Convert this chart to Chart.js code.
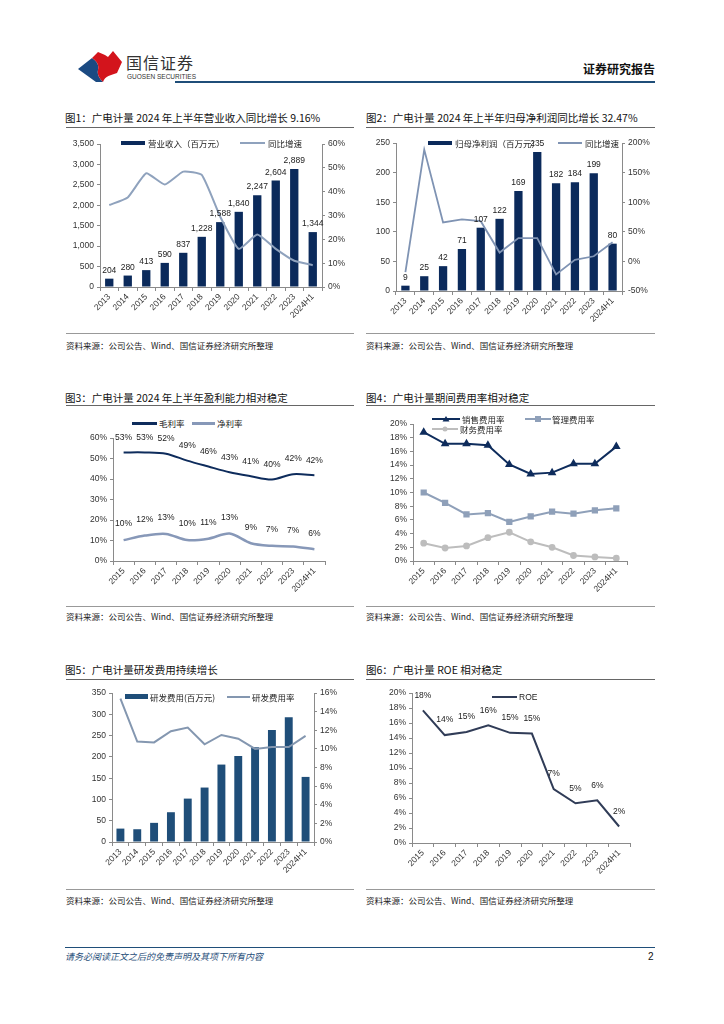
<!DOCTYPE html>
<html><head><meta charset="utf-8">
<script src="https://cdn.jsdelivr.net/npm/chart.js@4/dist/chart.umd.min.js"></script>
<style>
body{margin:0;background:#fff;width:724px;height:1024px;position:relative;overflow:hidden;font-family:"Noto Sans CJK SC","Noto Sans",sans-serif;color:#222;}
.t{position:absolute;white-space:nowrap;}
.title{position:absolute;font-size:10.5px;color:#111;white-space:nowrap;line-height:14px;}
.uline{position:absolute;height:0;border-top:1.5px solid #666;}
.sline{position:absolute;height:0;border-top:1px solid #999;}
.src{position:absolute;font-size:8.5px;color:#222;white-space:nowrap;line-height:11px;}
.box{position:absolute;}
.leg{position:absolute;font-size:8.5px;color:#222;white-space:nowrap;line-height:10px;}
.sw{position:absolute;}
</style></head>
<body>
<!-- header -->
<svg class="t" style="left:60px;top:40px" width="140" height="50" viewBox="60 40 140 50">
  <path d="M78,69 L92,58 C98,62 99,66 98,70 C97,74 99,78 103,82 L96,82 Z" fill="#1b4a82"/>
  <path d="M92,58 L98,52 L105,55 L108,57 L113,51 L122,62 L117,73 C111,75 105,76 103,82 C99,78 97,74 98,70 C99,66 98,62 92,58 Z" fill="#d3141c"/>
</svg>
<div class="t" style="left:126px;top:52px;font-size:16px;letter-spacing:1px;color:#333;line-height:20px;">国信证券</div>
<div class="t" style="left:127px;top:73px;font-size:6.5px;color:#333;line-height:8px;font-family:'Liberation Sans',sans-serif;">GUOSEN SECURITIES</div>
<div class="t" style="left:175px;top:81px;width:480px;border-top:2px solid #1f4e79;"></div>
<div class="t" style="left:583px;top:61px;font-size:12px;font-weight:bold;color:#111;line-height:16px;">证券研究报告</div>

<!-- titles -->
<div class="title" style="left:65px;top:111px;">图1：广电计量 2024 年上半年营业收入同比增长 9.16%</div>
<div class="uline" style="left:66px;top:127px;width:288px;"></div>
<div class="title" style="left:366px;top:111px;">图2：广电计量 2024 年上半年归母净利润同比增长 32.47%</div>
<div class="uline" style="left:366px;top:127px;width:289px;"></div>
<div class="title" style="left:65px;top:391px;">图3：广电计量 2024 年上半年盈利能力相对稳定</div>
<div class="uline" style="left:66px;top:405px;width:288px;"></div>
<div class="title" style="left:366px;top:391px;">图4：广电计量期间费用率相对稳定</div>
<div class="uline" style="left:366px;top:405px;width:289px;"></div>
<div class="title" style="left:65px;top:663px;">图5：广电计量研发费用持续增长</div>
<div class="uline" style="left:66px;top:679px;width:288px;"></div>
<div class="title" style="left:366px;top:663px;">图6：广电计量 ROE 相对稳定</div>
<div class="uline" style="left:366px;top:679px;width:289px;"></div>

<!-- chart boxes -->
<div class="box" style="left:65px;top:135px;width:290px;height:190px;"><canvas id="c1"></canvas></div>
<div class="box" style="left:365px;top:135px;width:290px;height:190px;"><canvas id="c2"></canvas></div>
<div class="box" style="left:65px;top:430px;width:290px;height:170px;"><canvas id="c3"></canvas></div>
<div class="box" style="left:365px;top:415px;width:290px;height:185px;"><canvas id="c4"></canvas></div>
<div class="box" style="left:65px;top:685px;width:290px;height:190px;"><canvas id="c5"></canvas></div>
<div class="box" style="left:365px;top:685px;width:290px;height:190px;"><canvas id="c6"></canvas></div>

<!-- legends -->
<div class="sw" style="left:121px;top:141px;width:24px;height:4px;background:#0b2a5b;"></div>
<div class="leg" style="left:148px;top:138px;">营业收入（百万元）</div>
<div class="sw" style="left:240px;top:142px;width:25px;height:2px;background:#8fa2bd;"></div>
<div class="leg" style="left:268px;top:138px;">同比增速</div>

<div class="sw" style="left:428px;top:141px;width:24px;height:4px;background:#0b2a5b;"></div>
<div class="leg" style="left:455px;top:138px;">归母净利润（百万元）</div>
<div class="sw" style="left:558px;top:142px;width:24px;height:2px;background:#7f93b3;"></div>
<div class="leg" style="left:585px;top:138px;">同比增速</div>

<div class="sw" style="left:132px;top:422px;width:25px;height:2.5px;background:#0e2c5c;"></div>
<div class="leg" style="left:159px;top:418px;">毛利率</div>
<div class="sw" style="left:192px;top:422px;width:23px;height:2.5px;background:#8798b8;"></div>
<div class="leg" style="left:217px;top:418px;">净利率</div>

<svg class="sw" style="left:432px;top:414px" width="28" height="10"><line x1="0" y1="5" x2="28" y2="5" stroke="#0e2c5c" stroke-width="2"/><polygon points="14,2 17.5,7.5 10.5,7.5" fill="#0e2c5c"/></svg>
<div class="leg" style="left:462px;top:414px;">销售费用率</div>
<svg class="sw" style="left:525px;top:414px" width="26" height="10"><line x1="0" y1="5" x2="26" y2="5" stroke="#8fa0b9" stroke-width="2"/><rect x="10" y="2" width="6" height="6" fill="#8fa0b9"/></svg>
<div class="leg" style="left:552px;top:414px;">管理费用率</div>
<svg class="sw" style="left:432px;top:424px" width="26" height="10"><line x1="0" y1="5" x2="26" y2="5" stroke="#bdbdbd" stroke-width="2"/><circle cx="13" cy="5" r="2.5" fill="#bdbdbd"/></svg>
<div class="leg" style="left:460px;top:424px;">财务费用率</div>

<div class="sw" style="left:125px;top:694px;width:23px;height:5px;background:#1f4e79;"></div>
<div class="leg" style="left:150px;top:692px;">研发费用(百万元)</div>
<div class="sw" style="left:227px;top:696px;width:23px;height:2px;background:#8497b0;"></div>
<div class="leg" style="left:252px;top:692px;">研发费用率</div>

<div class="sw" style="left:492px;top:696px;width:25px;height:2px;background:#303c57;"></div>
<div class="leg" style="left:519px;top:692px;font-family:'Liberation Sans',sans-serif;">ROE</div>

<!-- sources -->
<div class="sline" style="left:66px;top:333px;width:288px;"></div>
<div class="src" style="left:66px;top:340px;">资料来源：公司公告、Wind、国信证券经济研究所整理</div>
<div class="sline" style="left:366px;top:333px;width:289px;"></div>
<div class="src" style="left:366px;top:340px;">资料来源：公司公告、Wind、国信证券经济研究所整理</div>
<div class="sline" style="left:66px;top:606px;width:288px;"></div>
<div class="src" style="left:66px;top:611px;">资料来源：公司公告、Wind、国信证券经济研究所整理</div>
<div class="sline" style="left:366px;top:606px;width:289px;"></div>
<div class="src" style="left:366px;top:611px;">资料来源：公司公告、Wind、国信证券经济研究所整理</div>
<div class="sline" style="left:66px;top:889px;width:288px;"></div>
<div class="src" style="left:66px;top:895px;">资料来源：公司公告、Wind、国信证券经济研究所整理</div>
<div class="sline" style="left:366px;top:889px;width:289px;"></div>
<div class="src" style="left:366px;top:895px;">资料来源：公司公告、Wind、国信证券经济研究所整理</div>

<!-- footer -->
<div class="t" style="left:65px;top:947px;width:590px;border-top:1px solid #1f4e79;"></div>
<div class="t" style="left:65px;top:951px;font-size:9px;font-style:italic;color:#1f4e79;line-height:12px;">请务必阅读正文之后的免责声明及其项下所有内容</div>
<div class="t" style="left:648px;top:950px;font-size:10px;color:#111;line-height:13px;font-family:'Liberation Sans',sans-serif;">2</div>

<script>
// ---------- data ----------
const yearsA = ['2013','2014','2015','2016','2017','2018','2019','2020','2021','2022','2023','2024H1'];
const yearsB = ['2015','2016','2017','2018','2019','2020','2021','2022','2023','2024H1'];
const revenue = [204,280,413,590,837,1228,1588,1840,2247,2604,2889,1344];
const revenueGrowth = [34.4,37.6,47.7,43.0,48.4,47.0,29.5,16.0,22.0,16.0,11.0,9.16];
const netProfit = [9,25,42,71,107,122,169,235,182,184,199,80];
const netProfitGrowth = [-18,189,66,71,68,15,39.5,39.5,-22,2.6,8.7,32.47];
const grossMargin = [53.0,53.0,52.4,49.0,46.1,43.3,41.4,39.8,42.4,41.9];
const netMargin = [10.2,12.4,13.2,10.2,10.9,13.4,8.7,7.4,7.1,5.7];
const sellingRate = [18.8,17.1,17.1,16.9,14.1,12.7,12.9,14.2,14.2,16.7];
const adminRate = [10.0,8.5,6.8,7.0,5.7,6.5,7.2,6.9,7.4,7.7];
const financeRate = [2.6,1.9,2.2,3.4,4.2,2.8,2.0,0.8,0.6,0.4];
const rdExpense = [31.5,30,45,70,102,128,182,202,223,263,293,153];
const rdRate = [15.4,10.8,10.7,11.9,12.3,10.5,11.5,11.1,10.0,10.2,10.2,11.4];
const roe = [17.7,14.4,14.8,15.7,14.7,14.6,7.2,5.3,5.7,2.2];

// ---------- helpers ----------
Chart.defaults.font.family = '"Liberation Sans","Noto Sans CJK SC",sans-serif';
Chart.defaults.font.size = 8.5;
Chart.defaults.color = '#333';
const tickFont = {size:8.5, family:'"Liberation Sans","Noto Sans CJK SC",sans-serif'};
const AX = '#8a8a8a';
const fmtComma = v => Number(v).toLocaleString('en-US');
const fmtPct = v => v + '%';
const fmtRoundPct = v => Math.round(v) + '%';

function labelPlugin(items){
  return {
    id:'valueLabels',
    afterDatasetsDraw(chart){
      const ctx = chart.ctx;
      ctx.save();
      ctx.font = '8.5px "Liberation Sans","Noto Sans CJK SC",sans-serif';
      ctx.fillStyle = '#222';
      ctx.textAlign = 'center';
      items.forEach(it => {
        ctx.textBaseline = it.baseline || 'bottom';
        const meta = chart.getDatasetMeta(it.dataset);
        const vals = chart.data.datasets[it.dataset].data;
        meta.data.forEach((el, i) => {
          ctx.fillText(it.format(vals[i]), el.x, el.y - it.offset);
        });
      });
      ctx.restore();
    }
  };
}
function xAxis(h){
  return {
    type:'category', offset:true,
    grid:{display:true, offset:true, drawOnChartArea:false, drawTicks:true, tickLength:4, color:AX},
    border:{display:true, color:AX, width:1},
    ticks:{font:tickFont, color:'#333', minRotation:45, maxRotation:45, autoSkip:false, padding:1},
    afterFit(s){ s.height = h; }
  };
}
function yAxis(pos, w, min, max, step, cb){
  return {
    type:'linear', position:pos, min:min, max:max,
    grid:{display:true, drawOnChartArea:false, drawTicks:true, tickLength:3, color:AX},
    border:{display:true, color:AX, width:1},
    ticks:{stepSize:step, font:tickFont, color:'#333', padding:3, callback:cb},
    afterFit(s){ s.width = w; }
  };
}
function baseOpts(pad, scales){
  return {
    responsive:true, maintainAspectRatio:false, animation:false,
    layout:{padding:pad},
    plugins:{legend:{display:false}, tooltip:{enabled:false}},
    scales:scales
  };
}

// ---------- chart 1 ----------
new Chart(document.getElementById('c1'), {
  type:'bar',
  data:{labels:yearsA, datasets:[
    {type:'line', label:'同比增速', data:revenueGrowth, yAxisID:'y1', borderColor:'#8fa2bd', borderWidth:2, pointRadius:0, tension:0.15, order:0},
    {type:'bar', label:'营业收入（百万元）', data:revenue, yAxisID:'y', backgroundColor:'#0b2a5b', categoryPercentage:1, barPercentage:0.45, order:1}
  ]},
  options: baseOpts({top:9,left:0,right:0,bottom:0}, {
    x: xAxis(38),
    y: yAxis('left', 35, 0, 3500, 500, fmtComma),
    y1: yAxis('right', 33, 0, 60, 10, fmtPct)
  }),
  plugins:[labelPlugin([{dataset:1, offset:4, format:fmtComma}])]
});

// ---------- chart 2 ----------
new Chart(document.getElementById('c2'), {
  type:'bar',
  data:{labels:yearsA, datasets:[
    {type:'line', label:'同比增速', data:netProfitGrowth, yAxisID:'y1', borderColor:'#7f93b3', borderWidth:1.8, pointRadius:0, tension:0, order:0},
    {type:'bar', label:'归母净利润（百万元）', data:netProfit, yAxisID:'y', backgroundColor:'#0b2a5b', categoryPercentage:1, barPercentage:0.44, order:1}
  ]},
  options: baseOpts({top:7,left:0,right:0,bottom:0}, {
    x: xAxis(34),
    y: yAxis('left', 31, 0, 250, 50, v => v),
    y1: yAxis('right', 33, -50, 200, 50, fmtPct)
  }),
  plugins:[labelPlugin([{dataset:1, offset:4, format:v => v}])]
});

// ---------- chart 3 ----------
new Chart(document.getElementById('c3'), {
  type:'line',
  data:{labels:yearsB, datasets:[
    {label:'毛利率', data:grossMargin, borderColor:'#0e2c5c', borderWidth:2, pointRadius:0, tension:0.3},
    {label:'净利率', data:netMargin, borderColor:'#8798b8', borderWidth:2.5, pointRadius:0, tension:0.3}
  ]},
  options: baseOpts({top:7,left:0,right:30,bottom:0}, {
    x: xAxis(39),
    y: yAxis('left', 48, 0, 60, 10, fmtPct)
  }),
  plugins:[labelPlugin([
    {dataset:0, offset:15, baseline:'middle', format:fmtRoundPct},
    {dataset:1, offset:16, baseline:'middle', format:fmtRoundPct}
  ])]
});

// ---------- chart 4 ----------
new Chart(document.getElementById('c4'), {
  type:'line',
  data:{labels:yearsB, datasets:[
    {label:'销售费用率', data:sellingRate, borderColor:'#0e2c5c', backgroundColor:'#0e2c5c', borderWidth:2, pointStyle:'triangle', pointRadius:3, tension:0},
    {label:'管理费用率', data:adminRate, borderColor:'#8fa0b9', backgroundColor:'#8fa0b9', borderWidth:2, pointStyle:'rect', pointRadius:3, tension:0},
    {label:'财务费用率', data:financeRate, borderColor:'#bdbdbd', backgroundColor:'#bdbdbd', borderWidth:2, pointStyle:'circle', pointRadius:2.4, tension:0}
  ]},
  options: baseOpts({top:9,left:0,right:28,bottom:0}, {
    x: xAxis(39),
    y: yAxis('left', 48, 0, 20, 2, fmtPct)
  })
});

// ---------- chart 5 ----------
new Chart(document.getElementById('c5'), {
  type:'bar',
  data:{labels:yearsA, datasets:[
    {type:'line', label:'研发费用率', data:rdRate, yAxisID:'y1', borderColor:'#8497b0', borderWidth:2, pointRadius:0, tension:0, order:0},
    {type:'bar', label:'研发费用(百万元)', data:rdExpense, yAxisID:'y', backgroundColor:'#1f4e79', categoryPercentage:1, barPercentage:0.47, order:1}
  ]},
  options: baseOpts({top:8,left:0,right:0,bottom:0}, {
    x: xAxis(33),
    y: yAxis('left', 47, 0, 350, 50, v => v),
    y1: yAxis('right', 41, 0, 16, 2, fmtPct)
  })
});

// ---------- chart 6 ----------
new Chart(document.getElementById('c6'), {
  type:'line',
  data:{labels:yearsB, datasets:[
    {label:'ROE', data:roe, borderColor:'#303c57', borderWidth:2, pointRadius:0, tension:0}
  ]},
  options: baseOpts({top:8,left:0,right:25,bottom:0}, {
    x: xAxis(32),
    y: yAxis('left', 47, 0, 20, 2, fmtPct)
  }),
  plugins:[labelPlugin([{dataset:0, offset:15, baseline:'middle', format:fmtRoundPct}])]
});
</script>
</body></html>
